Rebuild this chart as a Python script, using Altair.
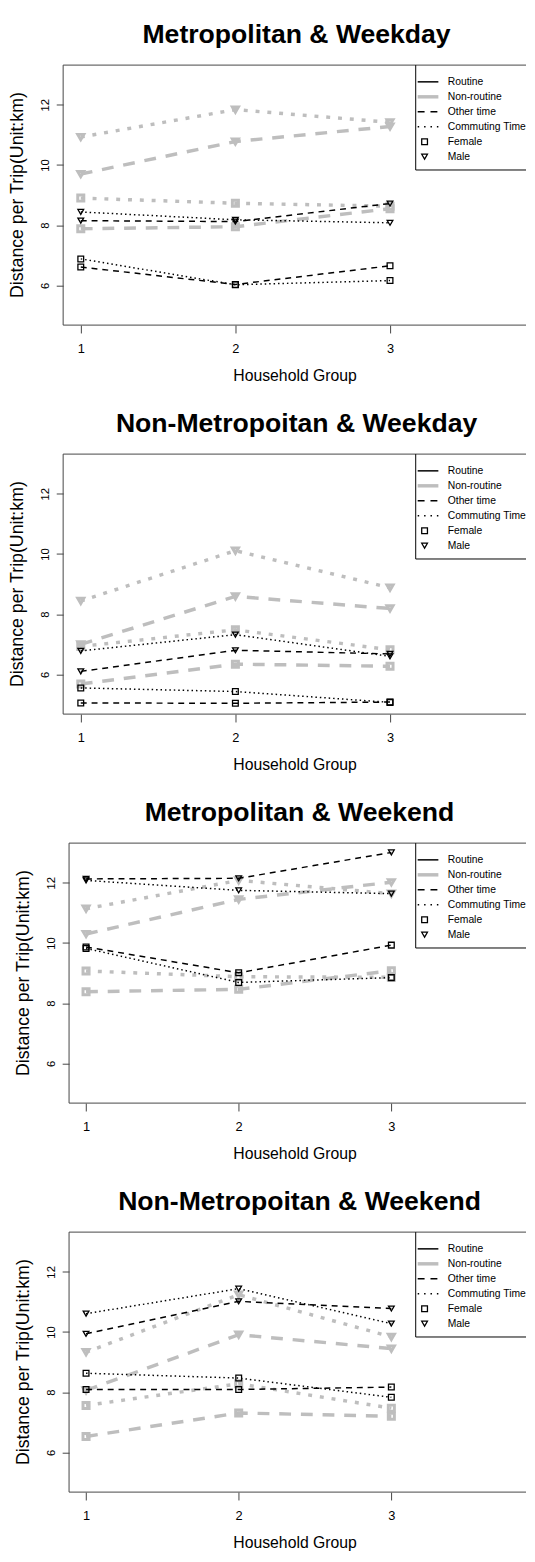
import altair as alt
import pandas as pd

households = [1, 2, 3]
panel_titles = [
    "Metropolitan & Weekday",
    "Non-Metropoitan & Weekday",
    "Metropolitan & Weekend",
    "Non-Metropoitan & Weekend",
]
series_keys = [
    ("Routine", "Other time", "Female"),
    ("Routine", "Commuting Time", "Female"),
    ("Routine", "Other time", "Male"),
    ("Routine", "Commuting Time", "Male"),
    ("Non-routine", "Other time", "Female"),
    ("Non-routine", "Commuting Time", "Female"),
    ("Non-routine", "Other time", "Male"),
    ("Non-routine", "Commuting Time", "Male"),
]

# values per panel, in the order of series_keys, for household groups 1, 2, 3
metro_weekday = [
    [6.61, 6.03, 6.65],
    [6.88, 6.02, 6.16],
    [8.15, 8.12, 8.72],
    [8.44, 8.18, 8.08],
    [7.88, 7.95, 8.55],
    [8.90, 8.73, 8.63],
    [9.70, 10.78, 11.28],
    [10.93, 11.84, 11.42],
]
nonmetro_weekday = [
    [5.05, 5.04, 5.08],
    [5.55, 5.43, 5.07],
    [6.10, 6.80, 6.68],
    [6.78, 7.32, 6.60],
    [5.68, 6.34, 6.27],
    [6.93, 7.48, 6.82],
    [7.00, 8.59, 8.19],
    [8.44, 10.11, 8.88],
]
metro_weekend = [
    [9.87, 9.01, 9.93],
    [9.82, 8.69, 8.85],
    [12.13, 12.15, 13.01],
    [12.08, 11.75, 11.64],
    [8.38, 8.46, 9.08],
    [9.07, 8.88, 8.86],
    [10.30, 11.45, 12.02],
    [11.14, 12.08, 11.64],
]
nonmetro_weekend = [
    [8.09, 8.09, 8.17],
    [8.63, 8.47, 7.83],
    [9.94, 11.02, 10.78],
    [10.61, 11.44, 10.28],
    [6.53, 7.31, 7.20],
    [7.56, 8.28, 7.47],
    [8.06, 9.91, 9.45],
    [9.33, 11.24, 9.84],
]
panel_values = [metro_weekday, nonmetro_weekday, metro_weekend, nonmetro_weekend]

legend_labels = ["Routine", "Non-routine", "Other time", "Commuting Time", "Female", "Male"]
y_title = "Distance per Trip(Unit:km)"

GRAY = "#BEBEBE"
BLACK = "#000000"
AXIS_COLOR = "#444444"
FONT = "Liberation Sans"

styles = {
    ("Non-routine", "Other time"): dict(color=GRAY, strokeWidth=3.5, strokeDash=[12, 10]),
    ("Non-routine", "Commuting Time"): dict(color=GRAY, strokeWidth=3.5, strokeDash=[4, 8]),
    ("Routine", "Other time"): dict(color=BLACK, strokeWidth=1.5, strokeDash=[6, 5]),
    ("Routine", "Commuting Time"): dict(color=BLACK, strokeWidth=1.5, strokeDash=[1.5, 3]),
}

PLOT_W = 470
PLOT_H = 264


def make_panel(title, values, shift, x_lo, x_unit):
    rows = []
    for key, vals in zip(series_keys, values):
        for h, v in zip(households, vals):
            rows.append({"routine": key[0], "time": key[1], "gender": key[2],
                         "household": h, "distance": v})
    df = pd.DataFrame(rows)
    base = alt.Chart(df)

    x_enc = alt.X("household:Q",
                  scale=alt.Scale(domain=[x_lo, x_lo + PLOT_W / x_unit], nice=False, zero=False),
                  axis=alt.Axis(values=households, title="Household Group", format="d",
                                domain=False, tickSize=8, labelPadding=10, labelFontSize=13,
                                titleFontSize=16, titleFontWeight="normal", titlePadding=12.5))
    y_enc = alt.Y("distance:Q",
                  scale=alt.Scale(domain=[4.68, 13.32], nice=False, zero=False),
                  axis=alt.Axis(values=[6, 8, 10, 12], title="",
                                domain=False, offset=-shift,
                                tickSize=7, labelPadding=8, labelFontSize=11.5,
                                labelAngle=270, labelAlign="center", labelBaseline="alphabetic"))
    shape_enc = alt.Shape("gender:N",
                          scale=alt.Scale(domain=["Female", "Male"],
                                          range=["square", "triangle-down"]),
                          legend=None)

    layers = []
    for routine in ["Non-routine", "Routine"]:
        for time in ["Other time", "Commuting Time"]:
            st = styles[(routine, time)]
            sub = base.transform_filter(
                (alt.datum.routine == routine) & (alt.datum.time == time))
            layers.append(sub.mark_line(**st).encode(x=x_enc, y=y_enc, detail="gender:N"))
        psub = base.transform_filter(alt.datum.routine == routine)
        if routine == "Non-routine":
            layers.append(psub.mark_point(filled=False, color=GRAY, strokeWidth=3, size=38,
                                          opacity=1).encode(x=x_enc, y=y_enc, shape=shape_enc))
        else:
            layers.append(psub.mark_point(filled=False, color=BLACK, strokeWidth=1.3, size=34,
                                          opacity=1).encode(x=x_enc, y=y_enc, shape=shape_enc))

    one = pd.DataFrame({"k": [0]})
    deco = alt.Chart(one)
    # plot box (right edge lies outside the picture)
    for enc in [dict(x=alt.value(shift), x2=alt.value(PLOT_W), y=alt.value(0)),
                dict(x=alt.value(shift), x2=alt.value(PLOT_W), y=alt.value(PLOT_H)),
                dict(x=alt.value(shift), y=alt.value(0), y2=alt.value(PLOT_H))]:
        layers.append(deco.mark_rule(color=AXIS_COLOR, strokeWidth=1).encode(**enc))

    # panel title
    layers.append(deco.mark_text(text=title, align="center", baseline="alphabetic",
                                 fontSize=27, fontWeight="bold", font=FONT,
                                 color=BLACK).encode(
        x=alt.value(237 + shift / 2), y=alt.value(-22)))
    # y axis title
    layers.append(deco.mark_text(text=y_title, align="center", baseline="alphabetic",
                                 angle=270, fontSize=18, font=FONT, color=BLACK).encode(
        x=alt.value(-41 + shift), y=alt.value(PLOT_H / 2)))

    # legend
    L = 358
    row_y = [17.0 + 15.2 * i for i in range(6)]
    box_bottom = 106.5
    layers.append(deco.mark_rule(color=BLACK, strokeWidth=1).encode(
        x=alt.value(L), y=alt.value(0), y2=alt.value(box_bottom)))
    layers.append(deco.mark_rule(color=BLACK, strokeWidth=1).encode(
        x=alt.value(L), x2=alt.value(PLOT_W), y=alt.value(box_bottom)))
    legend_line_styles = [
        dict(color=BLACK, strokeWidth=1.5),
        dict(color=GRAY, strokeWidth=3.5),
        dict(color=BLACK, strokeWidth=1.5, strokeDash=[7, 6]),
        dict(color=BLACK, strokeWidth=1.5, strokeDash=[1.5, 5]),
    ]
    for i, st in enumerate(legend_line_styles):
        layers.append(deco.mark_rule(**st).encode(
            x=alt.value(L + 2), x2=alt.value(L + 23), y=alt.value(row_y[i])))
    for i, shp in [(4, "square"), (5, "triangle-down")]:
        layers.append(deco.mark_point(filled=False, color=BLACK, strokeWidth=1.3, size=34,
                                      opacity=1, shape=shp).encode(
            x=alt.value(L + 9), y=alt.value(row_y[i])))
    for i, lab in enumerate(legend_labels):
        layers.append(deco.mark_text(text=lab, align="left", baseline="middle", fontSize=10.5,
                                     font=FONT, color=BLACK).encode(
            x=alt.value(L + 32.5), y=alt.value(row_y[i])))

    return alt.layer(*layers).properties(width=PLOT_W, height=PLOT_H)


panels = [
    make_panel(panel_titles[0], panel_values[0], 0, 0.886, 157),
    make_panel(panel_titles[1], panel_values[1], 0, 0.886, 157),
    make_panel(panel_titles[2], panel_values[2], 6, 0.85, 155),
    make_panel(panel_titles[3], panel_values[3], 6, 0.85, 155),
]

chart = alt.vconcat(*panels, spacing=27).properties(
    padding={"left": 0, "top": 2, "right": 0, "bottom": 0}
).configure_view(strokeWidth=0).configure_axis(
    grid=False, tickColor=AXIS_COLOR, tickWidth=1,
    labelColor=BLACK, titleColor=BLACK, labelFont=FONT, titleFont=FONT,
)

chart.save("out.html", embed_options={"renderer": "svg", "actions": False})
